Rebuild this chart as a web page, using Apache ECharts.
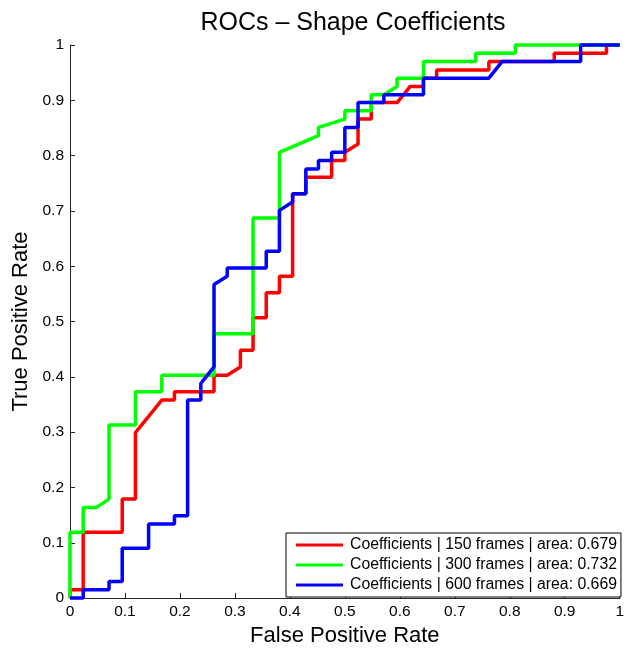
<!DOCTYPE html>
<html lang="en">
<head>
    <meta charset="UTF-8">
    <title>ROCs - Shape Coefficients</title>
    <script src="https://cdn.jsdelivr.net/npm/echarts@6/dist/echarts.min.js"></script>
    <style>
        html, body { margin: 0; padding: 0; background: #fff; }
    </style>
</head>
<body>
    <div id="main" style="width: 627px;height:652px;"></div>
    <script>
        // ROC points: [false positive rate, true positive rate]
        var roc150 = [
            [0, 0], [0, 0.015], [0.024, 0.015], [0.024, 0.119], [0.095, 0.119], [0.095, 0.179],
            [0.119, 0.179], [0.119, 0.299], [0.167, 0.358], [0.190, 0.358], [0.190, 0.373],
            [0.262, 0.373], [0.262, 0.403], [0.286, 0.403], [0.310, 0.418], [0.310, 0.448],
            [0.333, 0.448], [0.333, 0.507], [0.357, 0.507], [0.357, 0.552], [0.381, 0.552],
            [0.381, 0.582], [0.405, 0.582], [0.405, 0.731], [0.429, 0.731], [0.429, 0.761],
            [0.476, 0.761], [0.476, 0.791], [0.500, 0.791], [0.500, 0.806], [0.524, 0.821],
            [0.524, 0.866], [0.548, 0.866], [0.548, 0.896], [0.595, 0.896], [0.619, 0.925],
            [0.643, 0.925], [0.643, 0.940], [0.667, 0.940], [0.667, 0.955], [0.762, 0.955],
            [0.762, 0.970], [0.881, 0.970], [0.881, 0.985], [0.976, 0.985], [0.976, 1], [1, 1]
        ];
        var roc300 = [
            [0, 0], [0, 0.119], [0.024, 0.119], [0.024, 0.164], [0.048, 0.164], [0.071, 0.179],
            [0.071, 0.313], [0.119, 0.313], [0.119, 0.373], [0.167, 0.373], [0.167, 0.403],
            [0.262, 0.403], [0.262, 0.478], [0.333, 0.478], [0.333, 0.687], [0.381, 0.687],
            [0.381, 0.806], [0.452, 0.836], [0.452, 0.851], [0.500, 0.866], [0.500, 0.881],
            [0.548, 0.881], [0.548, 0.910], [0.571, 0.910], [0.595, 0.925], [0.595, 0.940],
            [0.643, 0.940], [0.643, 0.970], [0.738, 0.970], [0.738, 0.985], [0.810, 0.985],
            [0.810, 1], [1, 1]
        ];
        var roc600 = [
            [0, 0], [0.024, 0], [0.024, 0.015], [0.071, 0.015], [0.071, 0.030], [0.095, 0.030],
            [0.095, 0.090], [0.143, 0.090], [0.143, 0.134], [0.190, 0.134], [0.190, 0.149],
            [0.214, 0.149], [0.214, 0.358], [0.238, 0.358], [0.238, 0.388], [0.262, 0.418],
            [0.262, 0.567], [0.286, 0.582], [0.286, 0.597], [0.357, 0.597], [0.357, 0.627],
            [0.381, 0.627], [0.381, 0.701], [0.405, 0.716], [0.405, 0.731], [0.429, 0.731],
            [0.429, 0.776], [0.452, 0.776], [0.452, 0.791], [0.476, 0.791], [0.476, 0.806],
            [0.500, 0.806], [0.500, 0.851], [0.524, 0.851], [0.524, 0.896], [0.571, 0.896],
            [0.571, 0.910], [0.643, 0.910], [0.643, 0.940], [0.762, 0.940], [0.786, 0.970],
            [0.929, 0.970], [0.929, 1], [1, 1]
        ];
        var seriesNames = [
            'Coefficients | 150 frames | area: 0.679',
            'Coefficients | 300 frames | area: 0.732',
            'Coefficients | 600 frames | area: 0.669'
        ];
        var seriesColors = ['#ff0000', '#00ff00', '#0000ff'];
        var seriesData = [roc150, roc300, roc600];

        var font = '"Liberation Sans", Arial, Helvetica, sans-serif';
        var axisColor = '#262626';

        var chart = echarts.init(document.getElementById('main'));

        var series = seriesData.map(function (d, i) {
            return {
                name: seriesNames[i],
                type: 'line',
                data: d,
                symbol: 'none',
                clip: false,
                z: 2 + i,
                lineStyle: { color: seriesColors[i], width: 3.5 },
                itemStyle: { color: seriesColors[i] }
            };
        });

        var option = {
            animation: false,
            backgroundColor: '#fff',
            title: {
                text: 'ROCs \u2013 Shape Coefficients',
                left: 348,
                textAlign: 'center',
                top: 6,
                textStyle: { fontFamily: font, fontSize: 25, fontWeight: 'normal', color: '#000' }
            },
            legend: {
                orient: 'vertical',
                left: 286,
                top: 533,
                padding: [4, 4, 4, 10],
                itemGap: 4,
                itemWidth: 47,
                itemHeight: 3,
                icon: 'rect',
                backgroundColor: '#fff',
                borderColor: '#000',
                borderWidth: 1,
                borderRadius: 0,
                data: seriesNames,
                textStyle: { fontFamily: font, fontSize: 15.8, color: '#000', lineHeight: 16, padding: [0, 0, 0, 2] }
            },
            grid: { left: 70, right: 0, top: 45, bottom: 48 },
            xAxis: {
                type: 'value',
                min: 0,
                max: 1,
                interval: 0.1,
                name: 'False Positive Rate',
                nameLocation: 'middle',
                nameGap: 21,
                nameTextStyle: { fontFamily: font, fontSize: 22, color: '#000' },
                axisLine: { show: true, lineStyle: { color: axisColor, width: 1 } },
                axisTick: { show: true, inside: true, length: 5, lineStyle: { color: axisColor } },
                axisLabel: { fontFamily: font, fontSize: 15.5, color: '#000', margin: 6, showMaxLabel: true },
                splitLine: { show: false }
            },
            yAxis: {
                type: 'value',
                min: 0,
                max: 1,
                interval: 0.1,
                name: 'True Positive Rate',
                nameLocation: 'middle',
                nameRotate: 90,
                nameGap: 34,
                nameTextStyle: { fontFamily: font, fontSize: 22, color: '#000' },
                axisLine: { show: true, lineStyle: { color: axisColor, width: 1 } },
                axisTick: { show: true, inside: true, length: 5, lineStyle: { color: axisColor } },
                axisLabel: { fontFamily: font, fontSize: 15.5, color: '#000', margin: 6 },
                splitLine: { show: false }
            },
            series: series
        };

        chart.setOption(option);
    </script>
</body>
</html>
